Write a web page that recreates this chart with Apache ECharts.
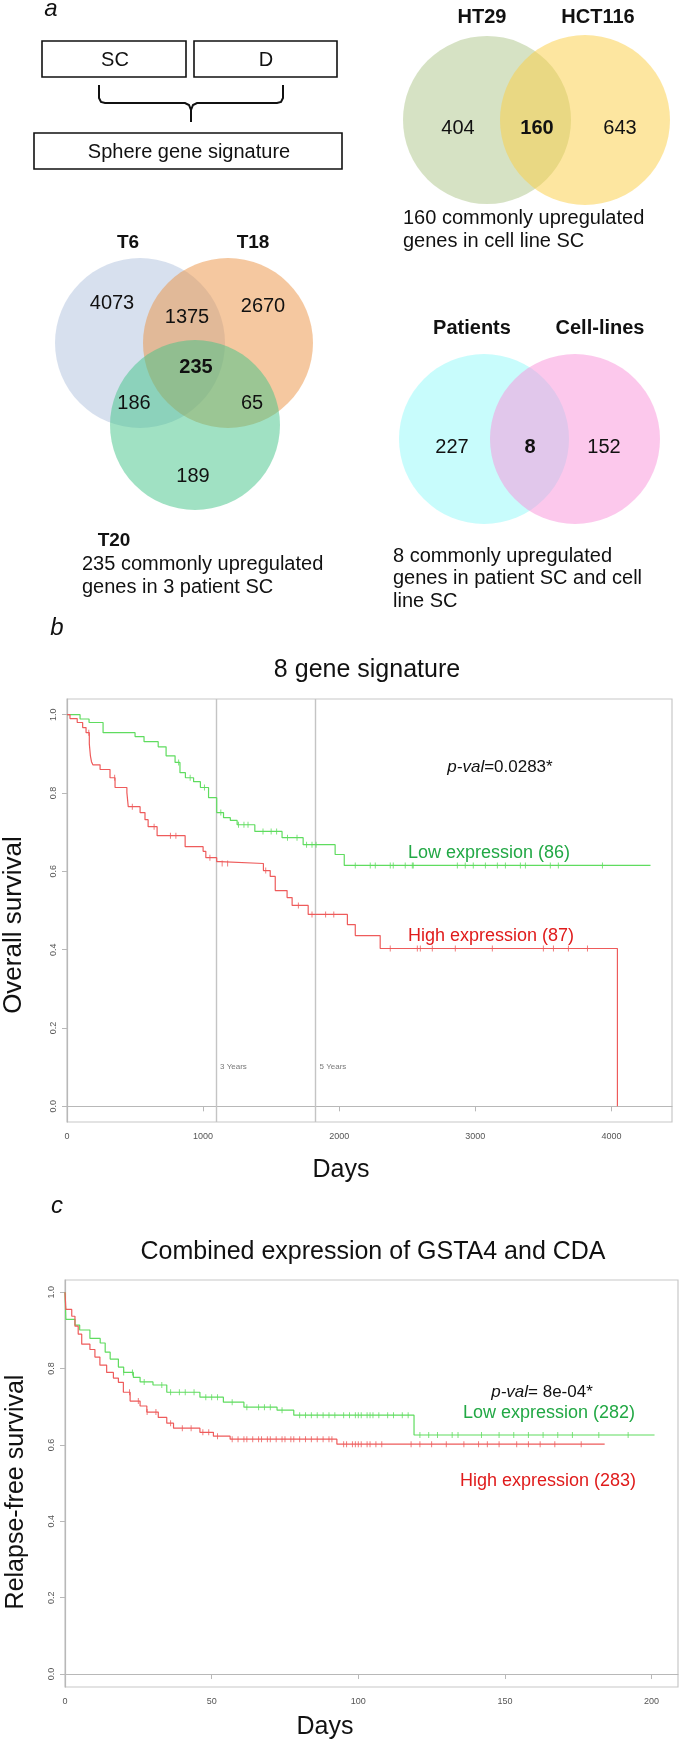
<!DOCTYPE html>
<html><head><meta charset="utf-8">
<script src="https://cdn.jsdelivr.net/npm/echarts@6/dist/echarts.min.js"></script>
<style>html,body{margin:0;padding:0;background:#fff}#c{width:680px;height:1741px}</style>
</head><body><div id="c"></div>
<script>
// ---------- DATA ----------
const htLabels = ['HT29', 'HCT116'];
const htCounts = [404, 160, 643];              // HT29 only, both, HCT116 only
const tLabels = ['T6', 'T18', 'T20'];
const tCounts = [4073, 1375, 2670, 235, 186, 65, 189]; // T6, T6&T18, T18, all, T6&T20, T18&T20, T20
const pcLabels = ['Patients', 'Cell-lines'];
const pcCounts = [227, 8, 152];

const bTitle = '8 gene signature';
const bPval = '0.0283*';
const bLowN = 86, bHighN = 87;
// [days, survival] Kaplan-Meier steps, panel b
const lowB = [[0,1],[96,0.989],[162,0.980],[265,0.954],[500,0.944],[566,0.931],[670,0.918],[728,0.895],[794,0.878],[830,0.852],[870,0.839],[930,0.829],[980,0.814],[1040,0.788],[1100,0.750],[1150,0.737],[1200,0.730],[1250,0.719],[1380,0.702],[1580,0.686],[1735,0.668],[1970,0.643],[2037,0.615],[4287,0.615]];
const highB = [[0,1],[22,0.990],[75,0.980],[115,0.967],[140,0.954],[164,0.925],[172,0.895],[180,0.880],[190,0.872],[243,0.860],[316,0.839],[353,0.814],[440,0.801],[450,0.765],[537,0.750],[573,0.732],[596,0.714],[662,0.691],[868,0.663],[1000,0.651],[1020,0.635],[1100,0.625],[1125,0.620],[1443,0.602],[1493,0.587],[1530,0.551],[1617,0.533],[1654,0.513],[1772,0.490],[2060,0.464],[2118,0.436],[2301,0.403],[4044,0]];
const lowBCens = [820,905,1010,1130,1260,1300,1330,1440,1500,1540,1620,1690,1760,1800,1830,2118,2228,2265,2375,2397,2485,2537,2544,2868,2926,2985,3074,3162,3221,3331,3368,3551,3610,3934];
const highBCens = [160,350,480,640,760,800,1050,1140,1180,1460,1700,1800,1900,1960,2375,2574,2596,2684,2853,3125,3500,3574,3684,3824];
const yearMarks = [1095, 1826];
const yearLabels = ['3 Years', '5 Years'];
const yTicks = [0, 0.2, 0.4, 0.6, 0.8, 1.0];

const cTitle = 'Combined expression of GSTA4 and CDA';
const cPval = '8e-04*';
const cLowN = 282, cHighN = 283;
const lowC = [[0,1],[0.3,0.929],[3.4,0.914],[5,0.901],[8.5,0.879],[12,0.867],[13.7,0.843],[15.4,0.825],[18.2,0.804],[20,0.790],[23.3,0.777],[25.6,0.765],[30,0.757],[34.7,0.738],[46,0.725],[54,0.712],[61,0.699],[72.3,0.691],[78,0.678],[119,0.626],[201,0.626]];
const highC = [[0,1],[0.3,0.955],[2.3,0.937],[3.4,0.911],[4.5,0.890],[5.7,0.864],[8.5,0.850],[10.2,0.830],[11.9,0.809],[14.2,0.790],[16.5,0.775],[18.2,0.764],[19.9,0.738],[22.2,0.715],[25.6,0.702],[27.9,0.686],[31.8,0.672],[34.7,0.657],[37,0.644],[46,0.633],[50.6,0.623],[56.3,0.615],[92.7,0.602],[184,0.602]];
const lowCCens = [20,23,27,33,36,39,41,44,48,50,52,57,62,66,68,70,74,80,82,84,86,88,90,92,95,97,99,100,101,103,104,105,107,110,112,115,117,121,124,127,132,134,142,148,153,158,163,168,173,182,192];
const highCCens = [22,25,28,31,36,40,43,47,49,52,57,59,61,62,64,66,67,69,70,72,74,75,77,78,80,82,84,86,88,90,91,95,96,98,99,100,101,103,104,106,108,118,121,125,130,136,141,144,148,154,158,162,167,176];

// ---------- HELPERS ----------
const FF = '"Liberation Sans", Arial, sans-serif';
function survAt(curve, t) { let s = curve[0][1]; for (const p of curve) { if (p[0] <= t) s = p[1]; else break; } return s; }
function txt(x, y, text, size, opts) {
  opts = opts || {};
  return { type: 'text', x: x, y: y, z: 100, rotation: opts.rot || 0,
    style: { text: text, font: (opts.style || '') + ' ' + (opts.weight || 'normal') + ' ' + size + 'px ' + FF,
      fill: opts.color || '#111', textAlign: opts.align || 'center', textVerticalAlign: 'middle', rich: opts.rich } };
}
function circ(cx, cy, r, fill) { return { type: 'circle', z: 10, shape: { cx: cx, cy: cy, r: r }, style: { fill: fill } }; }
function box(x, y, w, h) { return { type: 'rect', z: 20, shape: { x: x, y: y, width: w, height: h }, style: { fill: 'none', stroke: '#111', lineWidth: 1.6 } }; }

const GREEN_L = '#5fdc5f', RED_L = '#ee5b5b', GREEN_T = '#22a845', RED_T = '#e01b1b';

const g = [];
// Panel a
g.push(txt(51, 9, 'a', 24, { style: 'italic' }));
g.push(box(42, 41, 144, 36), box(194, 41, 143, 36), box(34, 133, 308, 36));
g.push(txt(115, 60, 'SC', 20), txt(266, 60, 'D', 20), txt(189, 152, 'Sphere gene signature', 20));
g.push({ type: 'polyline', z: 20, shape: { points: [[99,85],[99,98],[101,102],[105,103],[185,103],[189,105],[191,110],[191,122]] }, style: { stroke: '#111', lineWidth: 2, fill: 'none' } });
g.push({ type: 'polyline', z: 20, shape: { points: [[191,110],[193,105],[197,103],[277,103],[281,102],[283,98],[283,85]] }, style: { stroke: '#111', lineWidth: 2, fill: 'none' } });

// HT29 / HCT116
g.push(circ(487, 120, 84, 'rgba(173,197,137,0.5)'), circ(585, 120, 85, 'rgba(251,205,65,0.5)'));
g.push(txt(482, 17, htLabels[0], 20, { weight: 'bold' }), txt(598, 17, htLabels[1], 20, { weight: 'bold' }));
g.push(txt(458, 128, String(htCounts[0]), 20), txt(537, 128, String(htCounts[1]), 20, { weight: 'bold' }), txt(620, 128, String(htCounts[2]), 20));
g.push(txt(403, 218, htCounts[1] + ' commonly upregulated', 20, { align: 'left' }), txt(403, 241, 'genes in cell line SC', 20, { align: 'left' }));

// T6 / T18 / T20
g.push(circ(140, 343, 85, 'rgba(175,193,221,0.5)'), circ(228, 343, 85, 'rgba(235,145,65,0.5)'), circ(195, 425, 85, 'rgba(65,195,135,0.5)'));
g.push(txt(128, 243, tLabels[0], 19, { weight: 'bold' }), txt(253, 243, tLabels[1], 19, { weight: 'bold' }), txt(114, 541, tLabels[2], 19, { weight: 'bold' }));
g.push(txt(112, 303, String(tCounts[0]), 20), txt(187, 317, String(tCounts[1]), 20), txt(263, 306, String(tCounts[2]), 20),
  txt(196, 367, String(tCounts[3]), 20, { weight: 'bold' }), txt(134, 403, String(tCounts[4]), 20), txt(252, 403, String(tCounts[5]), 20), txt(193, 476, String(tCounts[6]), 20));
g.push(txt(82, 564, tCounts[3] + ' commonly upregulated', 20, { align: 'left' }), txt(82, 587, 'genes in 3 patient SC', 20, { align: 'left' }));

// Patients / Cell-lines
g.push(circ(484, 439, 85, 'rgba(145,249,249,0.5)'), circ(575, 439, 85, 'rgba(249,145,217,0.5)'));
g.push(txt(472, 328, pcLabels[0], 20, { weight: 'bold' }), txt(600, 328, pcLabels[1], 20, { weight: 'bold' }));
g.push(txt(452, 447, String(pcCounts[0]), 20), txt(530, 447, String(pcCounts[1]), 20, { weight: 'bold' }), txt(604, 447, String(pcCounts[2]), 20));
g.push(txt(393, 556, pcCounts[1] + ' commonly upregulated', 20, { align: 'left' }), txt(393, 578, 'genes in patient SC and cell', 20, { align: 'left' }), txt(393, 601, 'line SC', 20, { align: 'left' }));

// Panel b texts
g.push(txt(57, 628, 'b', 24, { style: 'italic' }));
g.push(txt(367, 670, bTitle, 25));
g.push(txt(500, 767, '{i|p-val}=' + bPval, 17, { rich: { i: { fontStyle: 'italic', fontSize: 17, fontFamily: FF } } }));
g.push(txt(408, 853, 'Low expression (' + bLowN + ')', 18, { align: 'left', color: GREEN_T }));
g.push(txt(408, 936, 'High expression (' + bHighN + ')', 18, { align: 'left', color: RED_T }));
g.push(txt(14, 925, 'Overall survival', 26, { rot: Math.PI / 2 }));
g.push(txt(341, 1170, 'Days', 25));

// Panel c texts
g.push(txt(57, 1206, 'c', 24, { style: 'italic' }));
g.push(txt(373, 1252, cTitle, 25));
g.push(txt(542, 1392, '{i|p-val}= ' + cPval, 17, { rich: { i: { fontStyle: 'italic', fontSize: 17, fontFamily: FF } } }));
g.push(txt(463, 1413, 'Low expression (' + cLowN + ')', 18, { align: 'left', color: GREEN_T }));
g.push(txt(460, 1481, 'High expression (' + cHighN + ')', 18, { align: 'left', color: RED_T }));
g.push(txt(16, 1492, 'Relapse-free survival', 25, { rot: Math.PI / 2 }));
g.push(txt(325, 1727, 'Days', 25));

const AX = '#b8b8b8';
function xAx(gi, max, interval) {
  return { type: 'value', gridIndex: gi, min: 0, max: max, interval: interval, splitLine: { show: false },
    axisLine: { show: true, lineStyle: { color: AX, width: 1.2 } },
    axisTick: { show: true, inside: false, length: 5, lineStyle: { color: AX } },
    axisLabel: { color: '#555', fontSize: 9, fontFamily: FF, margin: 10, showMaxLabel: false, formatter: function (v) { return String(v); } } };
}
function yAx(gi, min, max) {
  return { type: 'value', gridIndex: gi, min: min, max: max, splitLine: { show: false },
    axisLine: { show: true, lineStyle: { color: AX, width: 1.2 } },
    axisTick: { show: true, inside: false, length: 5, lineStyle: { color: AX }, customValues: yTicks },
    axisLabel: { color: '#555', fontSize: 9, fontFamily: FF, margin: 9, rotate: 90, customValues: yTicks, formatter: function (v) { return v.toFixed(1); } } };
}
function km(data, color, gi) {
  return { type: 'line', xAxisIndex: gi, yAxisIndex: gi, step: 'end', data: data, symbol: 'none', clip: false, z: 5,
    lineStyle: { color: color, width: 1.2 }, itemStyle: { color: color }, silent: true, animation: false };
}
function cens(curve, times, color, gi) {
  return { type: 'scatter', xAxisIndex: gi, yAxisIndex: gi, symbol: 'rect', symbolSize: [1, 6], z: 6, silent: true, animation: false,
    itemStyle: { color: color }, data: times.map(function (t) { return [t, survAt(curve, t)]; }) };
}

const lowBSeries = km(lowB, GREEN_L, 0);
lowBSeries.markLine = { silent: true, symbol: ['none', 'none'], animation: false, label: { show: false },
  lineStyle: { color: '#c4c4c4', width: 1.4, type: 'solid' }, data: yearMarks.map(function (d) { return { xAxis: d }; }) };

const option = {
  backgroundColor: '#fff',
  animation: false,
  grid: [
    { left: 67, top: 699, width: 605, height: 423, show: true, borderColor: '#c8c8c8', borderWidth: 1.2, backgroundColor: 'transparent' },
    { left: 65, top: 1280, width: 613, height: 407, show: true, borderColor: '#c8c8c8', borderWidth: 1.2, backgroundColor: 'transparent' }
  ],
  xAxis: [xAx(0, 4445, 1000), xAx(1, 209, 50)],
  yAxis: [yAx(0, -0.04, 1.04), yAx(1, -0.034, 1.032)],
  series: [
    lowBSeries,
    km(highB, RED_L, 0),
    cens(lowB, lowBCens, GREEN_L, 0),
    cens(highB, highBCens, RED_L, 0),
    { type: 'scatter', xAxisIndex: 0, yAxisIndex: 0, symbolSize: 0, silent: true, animation: false,
      data: yearMarks.map(function (d, i) { return { value: [d, 0.1], name: yearLabels[i] }; }),
      label: { show: true, position: 'right', distance: 4, formatter: '{b}', color: '#555', fontSize: 8, fontFamily: FF } },
    km(lowC, GREEN_L, 1),
    km(highC, RED_L, 1),
    cens(lowC, lowCCens, GREEN_L, 1),
    cens(highC, highCCens, RED_L, 1)
  ],
  graphic: { elements: g }
};
const chart = echarts.init(document.getElementById('c'), null, { renderer: 'canvas', width: 680, height: 1741 });
chart.setOption(option);
</script></body></html>
